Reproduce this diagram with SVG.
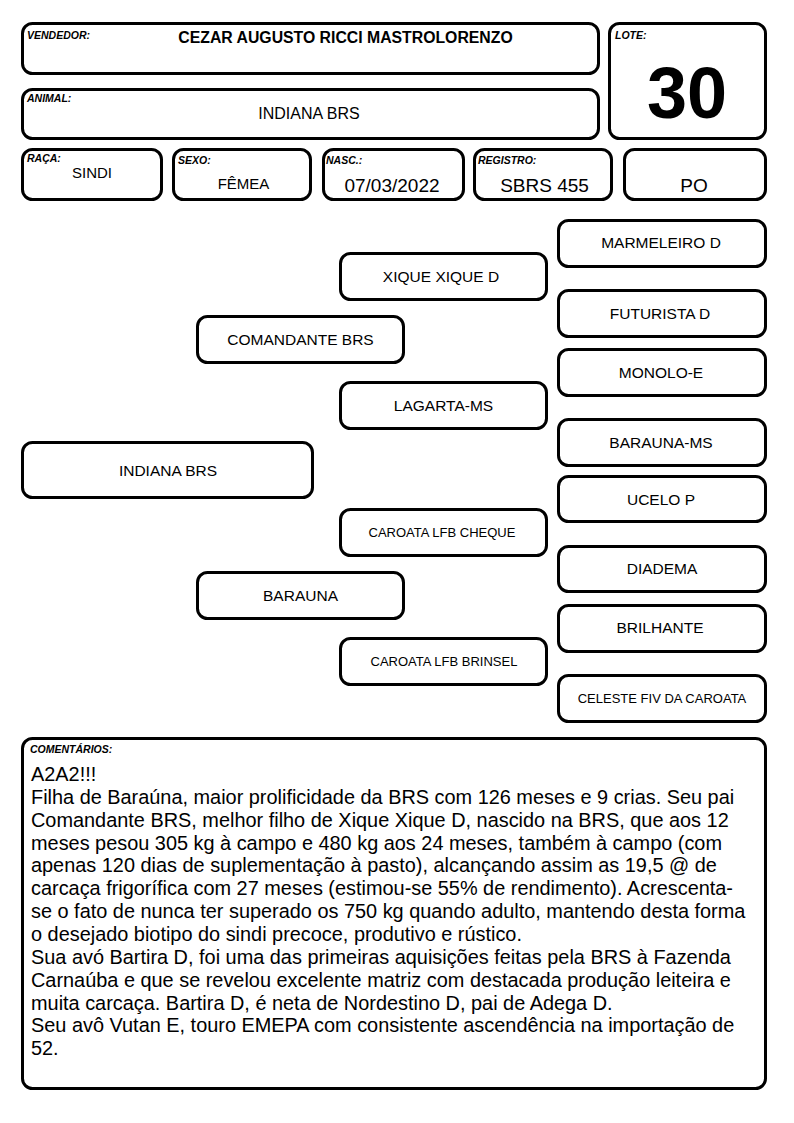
<svg xmlns="http://www.w3.org/2000/svg" width="794" height="1123" viewBox="0 0 794 1123">
<style>
.box{fill:#fff;stroke:#000;stroke-width:3}
.lbl{font-family:"Liberation Sans",Arial,sans-serif;font-weight:bold;font-style:italic;font-size:10.5px;fill:#000}
.val{font-family:"Liberation Sans",Arial,sans-serif;fill:#000;text-anchor:middle}
.ped{font-family:"Liberation Sans",Arial,sans-serif;fill:#000;text-anchor:middle;font-size:15.5px}
.sm{font-size:13px}
.cmt{font-family:"Liberation Sans",Arial,sans-serif;font-size:19.9px;fill:#000}
</style>
<rect width="794" height="1123" fill="#fff"/>
<g id="vendedor">
<rect class="box" x="22.5" y="23.5" width="576" height="50" rx="10"/>
<text class="lbl" x="27" y="39">VENDEDOR:</text>
<text class="val" x="345.5" y="42.5" font-size="15.8" font-weight="bold">CEZAR AUGUSTO RICCI MASTROLORENZO</text>
</g>
<g id="animal">
<rect class="box" x="22.5" y="89.5" width="576" height="49" rx="10"/>
<text class="lbl" x="27" y="102">ANIMAL:</text>
<text class="val" x="309" y="119" font-size="16">INDIANA BRS</text>
</g>
<g id="lote">
<rect class="box" x="609.5" y="23.5" width="156" height="115" rx="10"/>
<text class="lbl" x="615" y="39">LOTE:</text>
<text class="val" x="687" y="118" font-size="72" font-weight="bold">30</text>
</g>
<g id="raca">
<rect class="box" x="22.5" y="149.5" width="139" height="50" rx="10"/>
<text class="lbl" x="27" y="162">RAÇA:</text>
<text class="val" x="92" y="178" font-size="15">SINDI</text>
</g>
<g id="sexo">
<rect class="box" x="173.5" y="149.5" width="137" height="50" rx="10"/>
<text class="lbl" x="178" y="164">SEXO:</text>
<text class="val" x="243.5" y="189" font-size="15">FÊMEA</text>
</g>
<g id="nasc">
<rect class="box" x="323.5" y="149.5" width="140" height="50" rx="10"/>
<text class="lbl" x="326" y="164">NASC.:</text>
<text class="val" x="392" y="192" font-size="19">07/03/2022</text>
</g>
<g id="registro">
<rect class="box" x="474.5" y="149.5" width="137" height="50" rx="10"/>
<text class="lbl" x="478" y="164">REGISTRO:</text>
<text class="val" x="544.5" y="192" font-size="19">SBRS 455</text>
</g>
<g id="po">
<rect class="box" x="624.5" y="149.5" width="141" height="50" rx="10"/>
<text class="val" x="694" y="192" font-size="19">PO</text>
</g>
<g id="connectors"/>
<g id="n-indiana">
<rect class="box" x="22.5" y="442.5" width="290" height="55" rx="10"/>
<text class="ped" x="168" y="475.5">INDIANA BRS</text>
</g>
<g id="n-comandante">
<rect class="box" x="197.5" y="316.5" width="206" height="46" rx="10"/>
<text class="ped" x="300.5" y="345">COMANDANTE BRS</text>
</g>
<g id="n-barauna">
<rect class="box" x="197.5" y="572.5" width="206" height="46" rx="10"/>
<text class="ped" x="300.5" y="601">BARAUNA</text>
</g>
<g id="n-xique">
<rect class="box" x="340.5" y="253.5" width="206" height="46" rx="10"/>
<text class="ped" x="441" y="282">XIQUE XIQUE D</text>
</g>
<g id="n-lagarta">
<rect class="box" x="340.5" y="382.5" width="206" height="46" rx="10"/>
<text class="ped" x="443.5" y="411">LAGARTA-MS</text>
</g>
<g id="n-cheque">
<rect class="box" x="340.5" y="509.5" width="206" height="46" rx="10"/>
<text class="ped sm" x="442" y="537">CAROATA LFB CHEQUE</text>
</g>
<g id="n-brinsel">
<rect class="box" x="340.5" y="638.5" width="206" height="46" rx="10"/>
<text class="ped sm" x="444" y="665.5">CAROATA LFB BRINSEL</text>
</g>
<g id="n-marmeleiro">
<rect class="box" x="558.5" y="220.5" width="207" height="46" rx="10"/>
<text class="ped" x="661" y="248">MARMELEIRO D</text>
</g>
<g id="n-futurista">
<rect class="box" x="558.5" y="290.5" width="207" height="46" rx="10"/>
<text class="ped" x="660" y="318.5">FUTURISTA D</text>
</g>
<g id="n-monolo">
<rect class="box" x="558.5" y="349.5" width="207" height="46" rx="10"/>
<text class="ped" x="661" y="377.5">MONOLO-E</text>
</g>
<g id="n-baraunams">
<rect class="box" x="558.5" y="419.5" width="207" height="46" rx="10"/>
<text class="ped" x="661" y="447.5">BARAUNA-MS</text>
</g>
<g id="n-ucelo">
<rect class="box" x="558.5" y="476.5" width="207" height="45" rx="10"/>
<text class="ped" x="661" y="504.5">UCELO P</text>
</g>
<g id="n-diadema">
<rect class="box" x="558.5" y="546.5" width="207" height="45" rx="10"/>
<text class="ped" x="662" y="574">DIADEMA</text>
</g>
<g id="n-brilhante">
<rect class="box" x="558.5" y="605.5" width="207" height="46" rx="10"/>
<text class="ped" x="660" y="633">BRILHANTE</text>
</g>
<g id="n-celeste">
<rect class="box" x="558.5" y="675.5" width="207" height="46" rx="10"/>
<text class="ped sm" x="662" y="703">CELESTE FIV DA CAROATA</text>
</g>
<g id="comentarios">
<rect class="box" x="22.5" y="738.5" width="743" height="350" rx="10"/>
<text class="lbl" x="30" y="752.5">COMENTÁRIOS:</text>
<text class="cmt" x="31" y="781">
<tspan x="31" y="781">A2A2!!!</tspan>
<tspan x="31" dy="22.86">Filha de Baraúna, maior prolificidade da BRS com 126 meses e 9 crias. Seu pai</tspan>
<tspan x="31" dy="22.86">Comandante BRS, melhor filho de Xique Xique D, nascido na BRS, que aos 12</tspan>
<tspan x="31" dy="22.86">meses pesou 305 kg à campo e 480 kg aos 24 meses, também à campo (com</tspan>
<tspan x="31" dy="22.86">apenas 120 dias de suplementação à pasto), alcançando assim as 19,5 @ de</tspan>
<tspan x="31" dy="22.86">carcaça frigorífica com 27 meses (estimou-se 55% de rendimento). Acrescenta-</tspan>
<tspan x="31" dy="22.86">se o fato de nunca ter superado os 750 kg quando adulto, mantendo desta forma</tspan>
<tspan x="31" dy="22.86">o desejado biotipo do sindi precoce, produtivo e rústico.</tspan>
<tspan x="31" dy="22.86">Sua avó Bartira D, foi uma das primeiras aquisições feitas pela BRS à Fazenda</tspan>
<tspan x="31" dy="22.86">Carnaúba e que se revelou excelente matriz com destacada produção leiteira e</tspan>
<tspan x="31" dy="22.86">muita carcaça. Bartira D, é neta de Nordestino D, pai de Adega D.</tspan>
<tspan x="31" dy="22.86">Seu avô Vutan E, touro EMEPA com consistente ascendência na importação de</tspan>
<tspan x="31" dy="22.86">52.</tspan>
</text>
</g>
</svg>
